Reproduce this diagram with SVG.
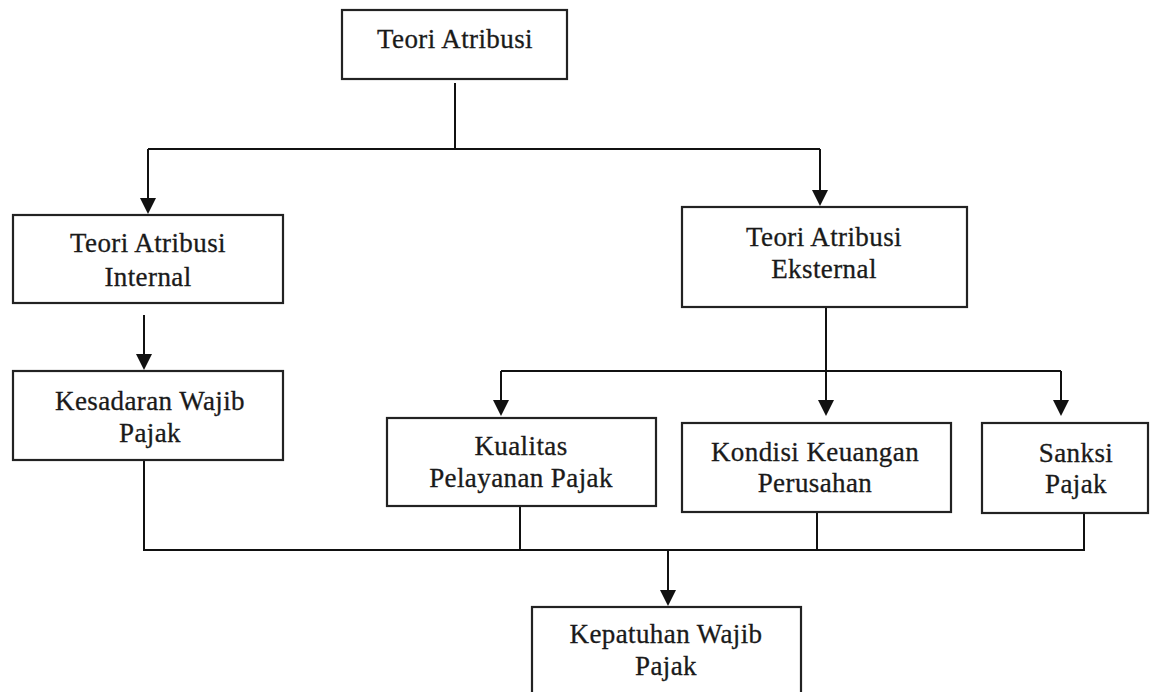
<svg xmlns="http://www.w3.org/2000/svg" width="1158" height="692" viewBox="0 0 1158 692">
<style>
.box{fill:#fff;stroke:#222;stroke-width:2.2}
.ln{fill:none;stroke:#111;stroke-width:2}
text{font-family:"Liberation Serif","Times New Roman",serif;font-size:27px;fill:#1a1a1a;text-anchor:middle;letter-spacing:0.4px;stroke:#1a1a1a;stroke-width:0.3}
</style>
<defs>
<path id="ah" d="M-8,-16 L8,-16 L0,0 Z" fill="#111"/>
</defs>
<rect width="1158" height="692" fill="#fff"/>
<g id="connectors">
<path class="ln" d="M455,83 V149"/>
<path class="ln" d="M148,149 H820"/>
<path class="ln" d="M148,149 V200"/>
<path class="ln" d="M820,149 V192"/>
<path class="ln" d="M144,315 V356"/>
<path class="ln" d="M826,307 V402"/>
<path class="ln" d="M501,371 H1061"/>
<path class="ln" d="M501,371 V402"/>
<path class="ln" d="M1061,371 V402"/>
<path class="ln" d="M144,460 V550 H1084 V513"/>
<path class="ln" d="M520,506 V550"/>
<path class="ln" d="M817,512 V550"/>
<path class="ln" d="M668,550 V592"/>
<use href="#ah" x="148" y="214"/>
<use href="#ah" x="820" y="206"/>
<use href="#ah" x="144" y="370"/>
<use href="#ah" x="501" y="416"/>
<use href="#ah" x="826" y="416"/>
<use href="#ah" x="1061" y="416"/>
<use href="#ah" x="668" y="606"/>
</g>
<g id="n-teori-atribusi">
<rect class="box" x="342" y="10" width="225" height="69"/>
<text x="455" y="48">Teori Atribusi</text>
</g>
<g id="n-internal">
<rect class="box" x="13" y="215" width="270" height="88"/>
<text x="148" y="252">Teori Atribusi</text>
<text x="148" y="286">Internal</text>
</g>
<g id="n-eksternal">
<rect class="box" x="682" y="207" width="285" height="100"/>
<text x="824" y="246">Teori Atribusi</text>
<text x="824" y="278">Eksternal</text>
</g>
<g id="n-kesadaran">
<rect class="box" x="13" y="371" width="270" height="89"/>
<text x="150" y="410">Kesadaran Wajib</text>
<text x="150" y="442">Pajak</text>
</g>
<g id="n-kualitas">
<rect class="box" x="387" y="418" width="269" height="88"/>
<text x="521" y="455">Kualitas</text>
<text x="521" y="487">Pelayanan Pajak</text>
</g>
<g id="n-kondisi">
<rect class="box" x="682" y="423" width="269" height="89"/>
<text x="815" y="461">Kondisi Keuangan</text>
<text x="815" y="492">Perusahan</text>
</g>
<g id="n-sanksi">
<rect class="box" x="982" y="423" width="166" height="90"/>
<text x="1076" y="462">Sanksi</text>
<text x="1076" y="493">Pajak</text>
</g>
<g id="n-kepatuhan">
<rect class="box" x="532" y="607" width="269" height="100"/>
<text x="666" y="643">Kepatuhan Wajib</text>
<text x="666" y="675">Pajak</text>
</g>
</svg>
